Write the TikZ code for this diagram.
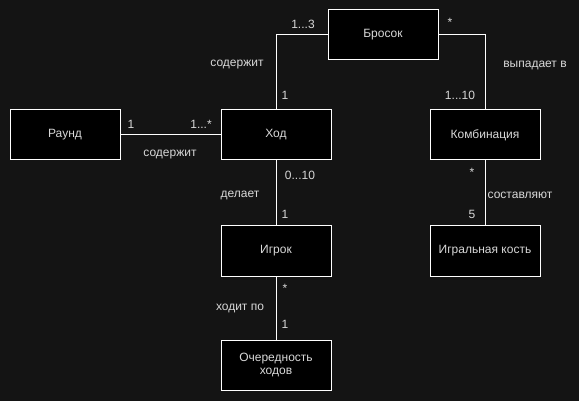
\documentclass[tikz,border=0pt]{standalone}
\usepackage{fontspec}
\setmainfont{Liberation Sans}
\usepackage{tikz}
\usetikzlibrary{positioning}
\definecolor{bgdark}{HTML}{141414}
\definecolor{txtgray}{HTML}{D8D8D8}

\begin{document}
\begin{tikzpicture}[x=1pt,y=-1pt,thick,auto,
                    every node/.style={font=\fontsize{12}{14}\selectfont,text=txtgray}]
  \tikzstyle{every class}=[draw=white,fill=black,line width=1pt,minimum width=110pt,
                           minimum height=50pt,align=center,inner sep=0pt]
  \tikzstyle{mult}=[inner sep=0pt]
  \fill[bgdark] (0,0) rectangle (579,401);
  \useasboundingbox (0,0) rectangle (579,401);

  \node[every class] (brosok) at (383,35)  {Бросок};
  \node[every class] (raund)  at (65,135)  {Раунд};
  \node[every class] (hod)    at (276,135) {Ход};
  \node[every class] (komb)   at (485,135) {Комбинация};
  \node[every class] (igrok)  at (276,251) {Игрок};
  \node[every class] (kost)   at (485,251) {Игральная кость};
  \node[every class] (ochered) at (276,365) {Очередность\\[-1pt]ходов};

  \draw[white,line width=1pt] (hod.north) |- (brosok.west)
        (brosok.east) -| (komb.north)
        (raund.east) -- (hod.west)
        (hod.south) -- (igrok.north)
        (komb.south) -- (kost.north)
        (igrok.south) -- (ochered.north);

  % labels
  \node[mult] at (303,24)  {1...3};
  \node[mult] at (450,22)  {*};
  \node[mult] at (237,65)  {содержит};
  \node[mult] at (535,65)  {выпадает в};
  \node[mult] at (285,95)  {1};
  \node[mult] at (460,95)  {1...10};
  \node[mult] at (131,124) {1};
  \node[mult] at (201,124) {1...*};
  \node[mult] at (170,155) {содержит};
  \node[mult] at (300,175) {0...10};
  \node[mult] at (240,195) {делает};
  \node[mult] at (285,214) {1};
  \node[mult] at (472,172) {*};
  \node[mult] at (520,195) {составляют};
  \node[mult] at (472,214) {5};
  \node[mult] at (285,288) {*};
  \node[mult] at (240,308) {ходит по};
  \node[mult] at (285,324) {1};
\end{tikzpicture}
\end{document}
